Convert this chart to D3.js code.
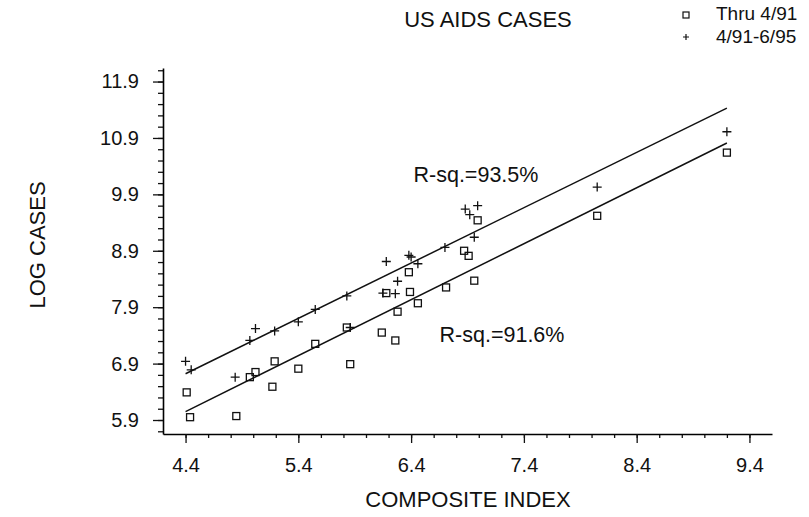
<!DOCTYPE html>
<html lang="en">
<head>
<meta charset="UTF-8">
<title>US AIDS Cases</title>
<script src="https://d3js.org/d3.v7.min.js"></script>
<style>
  body { margin: 0; background: #fff; }
  svg text { font-family: "Liberation Sans", Arial, Helvetica, sans-serif; fill: #111; }
</style>
</head>
<body>
<div id="chart"></div>
<script>
// composite index (x) and log cases (y)
const thruX = [4.41, 4.44, 4.85, 4.97, 5.02, 5.19, 5.17, 5.40, 5.55, 5.83, 5.86, 6.14, 6.26,
               6.18, 6.28, 6.38, 6.39, 6.46, 6.87, 6.91, 6.99, 6.96, 6.71, 8.05, 9.20];
const thruY = [6.39, 5.95, 5.97, 6.66, 6.75, 6.94, 6.49, 6.81, 7.25, 7.54, 6.89, 7.45, 7.31,
               8.15, 7.82, 8.52, 8.17, 7.97, 8.90, 8.81, 9.44, 8.37, 8.25, 9.52, 10.64];

const laterX = [4.40, 4.45, 4.84, 4.97, 5.02, 5.19, 5.40, 5.55, 5.83, 5.86, 6.15, 6.26,
                6.18, 6.28, 6.38, 6.40, 6.46, 6.70, 6.88, 6.92, 6.99, 6.96, 8.05, 9.20];
const laterY = [6.94, 6.79, 6.66, 7.31, 7.52, 7.48, 7.64, 7.86, 8.10, 7.54, 8.15, 8.14,
                8.71, 8.36, 8.82, 8.79, 8.67, 8.96, 9.64, 9.54, 9.70, 9.14, 10.03, 11.01];

// fitted lines (endpoints)
const fitX = [4.4, 9.2];
const fitLaterY = [6.72, 11.43];
const fitThruY = [6.05, 10.81];

const xTicks = [4.4, 5.4, 6.4, 7.4, 8.4, 9.4];
const yTicks = [5.9, 6.9, 7.9, 8.9, 9.9, 10.9, 11.9];
const rsqLabels = ["R-sq.=93.5%", "R-sq.=91.6%"];
const seriesNames = ["Thru 4/91", "4/91-6/95"];

const W = 809, H = 517;
const svg = d3.select("#chart").append("svg")
    .attr("width", W).attr("height", H);

const x = d3.scaleLinear().domain([4.2, 9.6]).range([163, 772]);
const y = d3.scaleLinear().domain([5.652, 12.14]).range([434, 68]);

const minorX = d3.range(4.4, 9.5, 0.2).map(v => +v.toFixed(1));
const minorY = d3.range(5.7, 12.15, 0.2).map(v => +v.toFixed(1));

// minor ticks
svg.append("g")
    .attr("transform", `translate(0,${y.range()[0]})`)
    .call(d3.axisBottom(x).tickValues(minorX).tickSize(4).tickSizeOuter(0).tickFormat(""))
    .call(g => g.select(".domain").remove());
svg.append("g")
    .attr("transform", `translate(${x.range()[0]},0)`)
    .call(d3.axisLeft(y).tickValues(minorY).tickSize(5).tickSizeOuter(0).tickFormat(""))
    .call(g => g.select(".domain").remove());

// major ticks + labels
const xAxis = svg.append("g")
    .attr("transform", `translate(0,${y.range()[0]})`)
    .call(d3.axisBottom(x).tickValues(xTicks).tickSize(9).tickSizeOuter(0).tickPadding(15)
        .tickFormat(d3.format(".1f")));
const yAxis = svg.append("g")
    .attr("transform", `translate(${x.range()[0]},0)`)
    .call(d3.axisLeft(y).tickValues(yTicks).tickSize(10).tickSizeOuter(0).tickPadding(14)
        .tickFormat(d3.format(".1f")));

[xAxis, yAxis].forEach(g => {
    g.select(".domain").attr("stroke-width", 1.6);
    g.selectAll("text").style("font-size", "20px").attr("fill", "#111");
});
svg.selectAll(".tick line").attr("stroke", "#111").attr("stroke-width", 1.3);

// fit lines
const line = d3.line().x(d => x(d[0])).y(d => y(d[1]));
[fitLaterY, fitThruY].forEach(fy => {
    svg.append("path")
        .datum(fitX.map((v, i) => [v, fy[i]]))
        .attr("d", line)
        .attr("fill", "none")
        .attr("stroke", "#111")
        .attr("stroke-width", 1.5);
});

// squares
svg.append("g").selectAll("rect")
    .data(thruX.map((v, i) => [v, thruY[i]]))
    .enter().append("rect")
    .attr("x", d => x(d[0]) - 3.5)
    .attr("y", d => y(d[1]) - 3.5)
    .attr("width", 7).attr("height", 7)
    .attr("fill", "none").attr("stroke", "#111").attr("stroke-width", 1.3);

// pluses
const plus = "M-4.5,0H4.5M0,-4.5V4.5";
svg.append("g").selectAll("path")
    .data(laterX.map((v, i) => [v, laterY[i]]))
    .enter().append("path")
    .attr("transform", d => `translate(${x(d[0])},${y(d[1])})`)
    .attr("d", plus)
    .attr("stroke", "#111").attr("stroke-width", 1.3);

// R-sq labels
svg.append("text").attr("x", x(6.975)).attr("y", y(10.12))
    .attr("text-anchor", "middle").style("font-size", "21.5px").text(rsqLabels[0]);
svg.append("text").attr("x", x(7.206)).attr("y", y(7.28))
    .attr("text-anchor", "middle").style("font-size", "21.5px").text(rsqLabels[1]);

// titles
svg.append("text").attr("x", 488).attr("y", 27)
    .attr("text-anchor", "middle").style("font-size", "22px").text("US AIDS CASES");
svg.append("text").attr("x", 468).attr("y", 507)
    .attr("text-anchor", "middle").style("font-size", "22px").text("COMPOSITE INDEX");
svg.append("text")
    .attr("transform", "translate(45,245) rotate(-90)")
    .attr("text-anchor", "middle").style("font-size", "22px").text("LOG CASES");

// legend
const lg = svg.append("g");
lg.append("rect").attr("x", 683).attr("y", 12).attr("width", 6).attr("height", 6)
    .attr("fill", "none").attr("stroke", "#111").attr("stroke-width", 1.2);
lg.append("path").attr("transform", "translate(686,37)").attr("d", "M-3,0H3M0,-3V3")
    .attr("stroke", "#111").attr("stroke-width", 1.2);
lg.append("text").attr("x", 716).attr("y", 20).style("font-size", "19px").text(seriesNames[0]);
lg.append("text").attr("x", 716).attr("y", 43).style("font-size", "19px").text(seriesNames[1]);
</script>
</body>
</html>
